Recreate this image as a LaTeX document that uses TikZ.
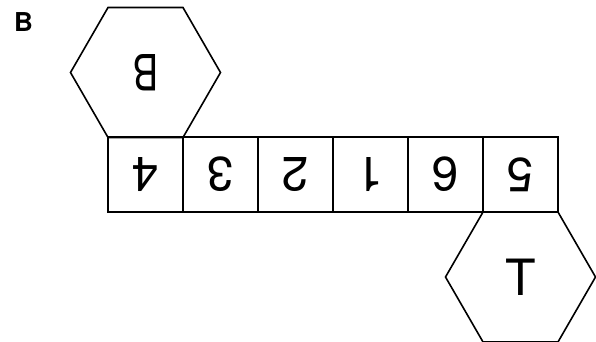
\documentclass[tikz,border=0pt]{standalone}
\usepackage{fontspec}
\newfontfamily\hv{TeX Gyre Heros}
\usetikzlibrary{shapes.geometric}
\begin{document}
\begin{tikzpicture}[x=1pt,y=-1pt,
  cell/.style={draw=black,line width=1.6pt,minimum size=75pt,inner sep=0pt,font=\hv\fontsize{48pt}{48pt}\selectfont},
  hexa/.style={draw=black,line width=1.6pt,regular polygon,regular polygon sides=6,minimum size=150pt,inner sep=0pt,font=\hv\fontsize{50pt}{50pt}\selectfont},
  flip/.style={rotate=180}]
\useasboundingbox (0,0) rectangle (596,342);
\node[font=\hv\bfseries\fontsize{26pt}{26pt}\selectfont] (lab) at (23.5,22.5) {B};
\node[hexa,flip] (top) at (145.5,72.5) {\scalebox{0.75}[1]{B}};
\node[cell,flip] (c1) at (145.5,174.5) {4};
\node[cell,flip] (c2) at (220.5,174.5) {3};
\node[cell,flip] (c3) at (295.5,174.5) {2};
\node[cell,flip] (c4) at (370.5,174.5) {1};
\node[cell,flip] (c5) at (445.5,174.5) {6};
\node[cell,flip] (c6) at (520.5,174.5) {5};
\node[hexa] (bot) at (520.5,277) {T};
\end{tikzpicture}
\end{document}
